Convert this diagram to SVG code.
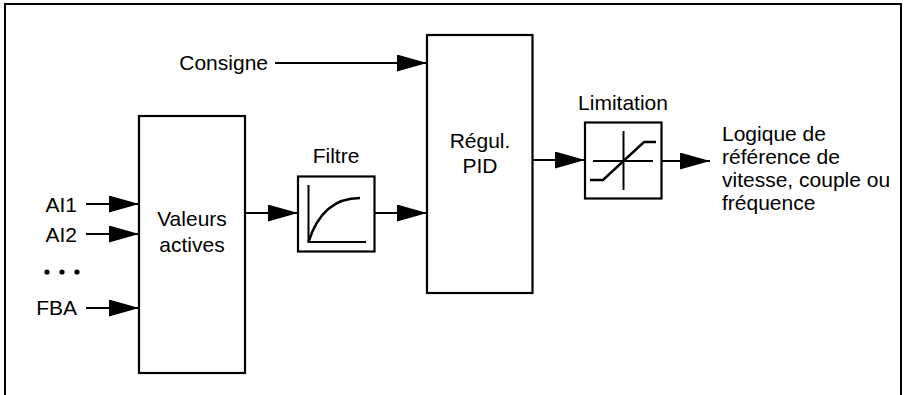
<svg xmlns="http://www.w3.org/2000/svg" width="904" height="395" viewBox="0 0 904 395">
<style>
  .box { fill: #fff; stroke: #000; stroke-width: 2.2; }
  .ln { fill: none; stroke: #000; stroke-width: 2; }
  .crv { fill: none; stroke: #000; stroke-width: 2.5; }
  .t { font-family: "Liberation Sans", Arial, sans-serif; font-size: 21px; fill: #000; }
  .c { text-anchor: middle; }
  .e { text-anchor: end; }
</style>
<defs>
  <marker id="arr" markerUnits="userSpaceOnUse" markerWidth="31" markerHeight="18" refX="30" refY="8.5" orient="auto">
    <path d="M0,0 L30,8.5 L0,17 z" fill="#000"/>
  </marker>
</defs>
<rect width="904" height="395" fill="#fff"/>
<path class="ln" d="M5,395 V4 H901 V395"/>

<g id="connectors">
  <line class="ln" x1="275" y1="63" x2="427" y2="63" marker-end="url(#arr)"/>
  <line class="ln" x1="86" y1="204" x2="139" y2="204" marker-end="url(#arr)"/>
  <line class="ln" x1="86" y1="234" x2="139" y2="234" marker-end="url(#arr)"/>
  <line class="ln" x1="86" y1="308" x2="139" y2="308" marker-end="url(#arr)"/>
  <line class="ln" x1="245" y1="213" x2="298" y2="213" marker-end="url(#arr)"/>
  <line class="ln" x1="374" y1="213" x2="427" y2="213" marker-end="url(#arr)"/>
  <line class="ln" x1="532" y1="160" x2="585" y2="160" marker-end="url(#arr)"/>
  <line class="ln" x1="661" y1="161" x2="710" y2="161" marker-end="url(#arr)"/>
</g>

<g id="consigne">
  <text class="t e" x="268" y="70">Consigne</text>
</g>

<g id="inputs">
  <text class="t e" x="77" y="212">AI1</text>
  <text class="t e" x="77" y="242">AI2</text>
  <circle cx="47" cy="272" r="2.6"/>
  <circle cx="62" cy="272" r="2.6"/>
  <circle cx="77" cy="272" r="2.6"/>
  <text class="t e" x="77" y="315">FBA</text>
</g>

<g id="valeurs">
  <rect class="box" x="139" y="116" width="106" height="257"/>
  <text class="t c" x="192" y="226">Valeurs</text>
  <text class="t c" x="192" y="252">actives</text>
</g>

<g id="filtre">
  <text class="t c" x="336" y="163">Filtre</text>
  <rect class="box" x="298" y="176.5" width="76.5" height="75"/>
  <path class="ln" d="M308.5,185 V242 H366"/>
  <path class="crv" d="M308.5,242 C316,218 330,198 360,198"/>
</g>

<g id="pid">
  <rect class="box" x="427" y="35" width="105.5" height="258"/>
  <text class="t c" x="480" y="148">Régul.</text>
  <text class="t c" x="480" y="173">PID</text>
</g>

<g id="limitation">
  <text class="t c" x="623" y="110">Limitation</text>
  <rect class="box" x="585" y="122.5" width="76.5" height="76"/>
  <line class="ln" x1="623.5" y1="131" x2="623.5" y2="190"/>
  <line class="ln" x1="593" y1="161" x2="653" y2="161"/>
  <path class="crv" d="M590,180 H603 L644,142 H656"/>
</g>

<g id="sortie">
  <text class="t" x="722" y="141">Logique de</text>
  <text class="t" x="722" y="164">référence de</text>
  <text class="t" x="722" y="187">vitesse, couple ou</text>
  <text class="t" x="722" y="210">fréquence</text>
</g>
</svg>
